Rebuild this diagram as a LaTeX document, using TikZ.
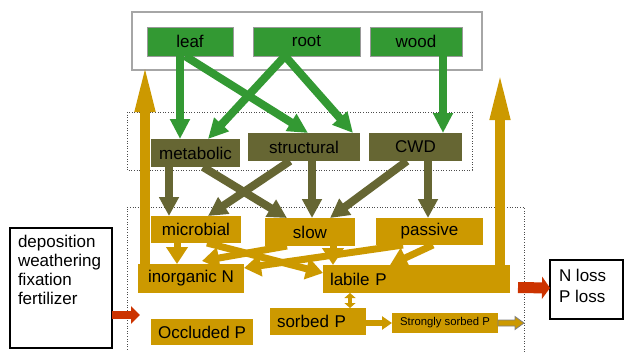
\documentclass[tikz,border=0pt]{standalone}
\usepackage{fontspec}
\setmainfont{Liberation Sans}
\usetikzlibrary{arrows.meta,calc}
\definecolor{pgreen}{HTML}{339933}
\definecolor{polive}{HTML}{666633}
\definecolor{pgold}{HTML}{CC9900}
\definecolor{pred}{HTML}{CC3300}
\begin{document}
\begin{tikzpicture}[x=1pt,y=-1pt,
  box/.style={anchor=north west, inner sep=0pt, outer sep=0pt, font=\fontsize{17}{19}\selectfont},
  gbox/.style={box, fill=pgreen, draw=gray!80, line width=0.7pt},
  obox/.style={box, fill=polive},
  ybox/.style={box, fill=pgold},
  frame/.style={draw=gray!70, line width=1.4pt},
  dotframe/.style={draw=black!70, dotted, line width=0.6pt},
  garr/.style={draw=pgreen, line width=8pt, -{Triangle[width=19pt,length=20pt]}},
  oarr/.style={draw=polive, line width=8pt, -{Triangle[width=19pt,length=19pt]}},
  yarr/.style={draw=pgold, line width=7pt, -{Triangle[width=21pt,length=17pt]}},
  bigarr/.style={draw=pgold, line width=9.5pt, -{Triangle[width=18pt,length=50pt]}},
]
\useasboundingbox (0,0) rectangle (624,351);

% frames
\draw[frame] (132,12) rectangle (482,70);
\draw[dotframe] (127,112) rectangle (472,170);
\draw[dotframe] (127,360) -- (127,207) -- (524,207) -- (524,360);

% plant
\node[gbox, minimum width=86pt, minimum height=29pt] (leaf) at (147,27) {leaf};
\node[gbox, minimum width=107pt, minimum height=29pt] (root) at (253,27) {root};
\node[gbox, minimum width=92pt, minimum height=29pt] (wood) at (370,27) {wood};

% litter
\node[obox, minimum width=89pt, minimum height=28pt] (metabolic) at (151,139) {metabolic};
\node[obox, minimum width=112pt, minimum height=28pt] (structural) at (248,133) {structural};
\node[obox, minimum width=93pt, minimum height=28pt] (cwd) at (369,133) {CWD};

% soil
\node[ybox, minimum width=90pt, minimum height=27pt] (microbial) at (151,216) {microbial};
\node[ybox, minimum width=90pt, minimum height=28pt] (slow) at (265,218) {slow};
\node[ybox, minimum width=107pt, minimum height=27pt] (passive) at (376,218) {passive};
\node[ybox, minimum width=106pt, minimum height=29pt] (inorgN) at (138,264) {inorganic N};
\node[ybox, minimum height=28pt, inner xsep=7pt, text width=173pt, align=left] (labileP) at (323,265) {labile P};
\node[ybox, minimum height=27pt, inner xsep=7pt, text width=82pt, align=left] (sorbedP) at (270,308) {sorbed P};
\node[ybox, minimum width=102pt, minimum height=26pt] (occludedP) at (151,319) {Occluded P};
\node[ybox, minimum width=106pt, minimum height=20pt, font=\fontsize{11.3}{13}\selectfont] (strongP) at (392,313) {Strongly sorbed P};

% external boxes
\node[box, draw=black, line width=1.3pt, minimum width=102pt, minimum height=120pt] (source) at (10,228) {};
\node[box, align=left] (sourcetext) at (18,235) {deposition\\weathering\\fixation\\fertilizer};
\node[box, draw=black, line width=1.3pt, minimum width=73pt, minimum height=59pt] (loss) at (550,260) {};
\node[box, align=left, font=\fontsize{17}{21}\selectfont] (losstext) at (559,269) {N loss\\P loss};

\coordinate (upL) at (145,62);
\coordinate (upR) at (500,70);
\coordinate (inTip) at (140,315);
\coordinate (outEdge) at (524,323);

% green arrows
\draw[garr] ([xshift=33pt]leaf.south west) -- ([xshift=29pt]metabolic.north west);
\draw[garr] ([xshift=38pt]leaf.south west) -- ([xshift=60pt]structural.north west);
\draw[garr] ([xshift=32pt]root.south west) -- ([xshift=57pt]metabolic.north west);
\draw[garr] ([xshift=32pt]root.south west) -- ([xshift=105pt]structural.north west);
\draw[garr] ([xshift=73pt]wood.south west) -- ([xshift=74pt]cwd.north west);

% olive arrows
\draw[oarr] ([xshift=18pt]metabolic.south west) -- ([xshift=18pt]microbial.north west);
\draw[oarr] ([xshift=52pt]metabolic.south west) -- ([xshift=22pt]slow.north west);
\draw[oarr] ([xshift=42pt]structural.south west) -- ([xshift=57pt]microbial.north west);
\draw[oarr] ([xshift=64pt]structural.south west) -- ([xshift=47pt]slow.north west);
\draw[oarr] ([xshift=38pt]cwd.south west) -- ([xshift=65pt]slow.north west);
\draw[oarr] ([xshift=59pt]cwd.south west) -- ([xshift=52pt]passive.north west);

% gold arrows among soil pools
\draw[yarr] ([xshift=26pt]microbial.south west) -- ([xshift=39pt]inorgN.north west);
\draw[yarr] ([xshift=56pt]microbial.south west) -- ([yshift=-8pt]labileP.north west);
\draw[yarr] ([xshift=22pt]slow.south west) -- ([xshift=64pt,yshift=3pt]inorgN.north west);
\draw[yarr] ([xshift=68pt]slow.south west) -- ([xshift=10pt]labileP.north west);
\draw[yarr] ([xshift=27pt]passive.south west) -- ([yshift=-4pt]inorgN.north east);
\draw[yarr] ([xshift=57pt]passive.south west) -- ([xshift=67pt]labileP.north west);

% uptake arrows
\draw[bigarr] ([xshift=7pt]inorgN.north west) -- (upL);
\draw[bigarr] ([xshift=177pt]labileP.north west) -- (upR);

% P exchanges
\draw[draw=pgold, line width=4pt, {Triangle[width=11pt,length=5pt]}-{Triangle[width=11pt,length=5pt]}] ([xshift=27pt]labileP.south west) -- ([xshift=80pt]sorbedP.north west);
\draw[draw=pgold, line width=6pt, -{Triangle[width=13pt,length=10pt]}] ([yshift=-1.5pt]sorbedP.east) -- (strongP.west);
\filldraw[fill=pgold, draw=gray, line width=0.8pt] ([yshift=3pt]strongP.east) -- ++(17,0) -- ++(0,-3.5) -- ++(9,6.5) -- ++(-9,6.5) -- ++(0,-3.5) -- ++(-17,0) -- cycle;

% inputs and losses
\draw[draw=pred, line width=8pt, -{Triangle[width=17pt,length=9pt]}] ([yshift=-27pt]source.east) -- (inTip);
\draw[draw=pred, line width=11pt, -{Triangle[width=22pt,length=8pt]}] ([xshift=8pt,yshift=-8.5pt]labileP.east) -- ([yshift=1.5pt]loss.west);
\end{tikzpicture}
\end{document}
